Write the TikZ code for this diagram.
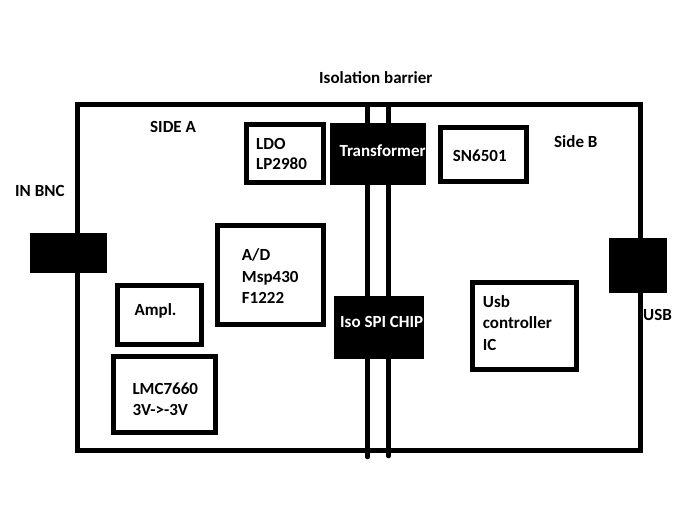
\documentclass[tikz,border=0pt]{standalone}
\usepackage{fontspec}
\setmainfont{Carlito}
\begin{document}
\begin{tikzpicture}[x=1pt,y=-1pt,
  box/.style={draw=black, line width=4.6pt, fill=white, inner sep=0pt},
  blk/.style={fill=black, inner sep=0pt},
  lbl/.style={anchor=base west, inner sep=0pt, font=\fontsize{17}{21}\selectfont\bfseries},
  wlbl/.style={lbl, text=white},
  wire/.style={line width=4.6pt}]
\useasboundingbox (0,0) rectangle (683,505);
% isolation barrier lines
\coordinate (b1t) at (367.5,104.5);
\coordinate (b1b) at (367.5,457);
\coordinate (b2t) at (388.5,104.5);
\coordinate (b2b) at (388.5,456);
\draw[wire, line cap=round] (b1t) -- (b1b);
\draw[wire, line cap=round] (b2t) -- (b2b);
% main enclosure
\node[draw=black, line width=4.6pt, inner sep=0pt, minimum width=563pt, minimum height=346pt] (main) at (359,277.5) {};
% blocks
\node[box, minimum width=77pt, minimum height=58pt] (ldo) at (285,153.5) {};
\node[blk, minimum width=96pt, minimum height=62pt] (trans) at (378,154) {};
\node[box, minimum width=86pt, minimum height=54pt] (sn) at (483.5,154.5) {};
\node[blk, minimum width=77pt, minimum height=40pt] (bnc) at (68.5,253) {};
\node[blk, minimum width=58pt, minimum height=55pt] (usbc) at (638,265.5) {};
\node[box, minimum width=106pt, minimum height=99pt] (ad) at (270.5,275) {};
\node[box, minimum width=84pt, minimum height=59pt] (amp) at (159.5,315) {};
\node[box, minimum width=102pt, minimum height=76pt] (lmc) at (164.5,394.5) {};
\node[blk, minimum width=90pt, minimum height=63pt] (iso) at (379,327.5) {};
\node[box, minimum width=104pt, minimum height=87pt] (usbic) at (524.5,326) {};
% labels
\node[lbl] (tiso) at (319,84) {Isolation barrier};
\node[lbl] (tsidea) at (150,133) {SIDE A};
\node[lbl] (tsideb) at (554,148) {Side B};
\node[lbl] (tbnc) at (15,196.7) {IN BNC};
\node[lbl] (tusb) at (643,320.7) {USB};
\node[lbl] (tldo1) at (256,149.3) {LDO};
\node[lbl] (tldo2) at (256,170) {LP2980};
\node[wlbl] (ttrans) at (339.3,157) {Transformer};
\node[lbl] (tsn) at (452.7,161.7) {SN6501};
\node[lbl] (tad1) at (241.7,260.7) {A/D};
\node[lbl] (tad2) at (241.7,282.3) {Msp430};
\node[lbl] (tad3) at (241.7,303.3) {F1222};
\node[lbl] (tamp) at (134.3,315.7) {Ampl.};
\node[lbl] (tlmc1) at (132.3,394) {LMC7660};
\node[lbl] (tlmc2) at (132.3,415) {3V->-3V};
\node[wlbl] (tisoc) at (340,327.7) {Iso SPI CHIP};
\node[lbl] (tu1) at (482.7,307.7) {Usb};
\node[lbl] (tu2) at (482.7,328.5) {controller};
\node[lbl] (tu3) at (482.7,350) {IC};
\end{tikzpicture}
\end{document}
